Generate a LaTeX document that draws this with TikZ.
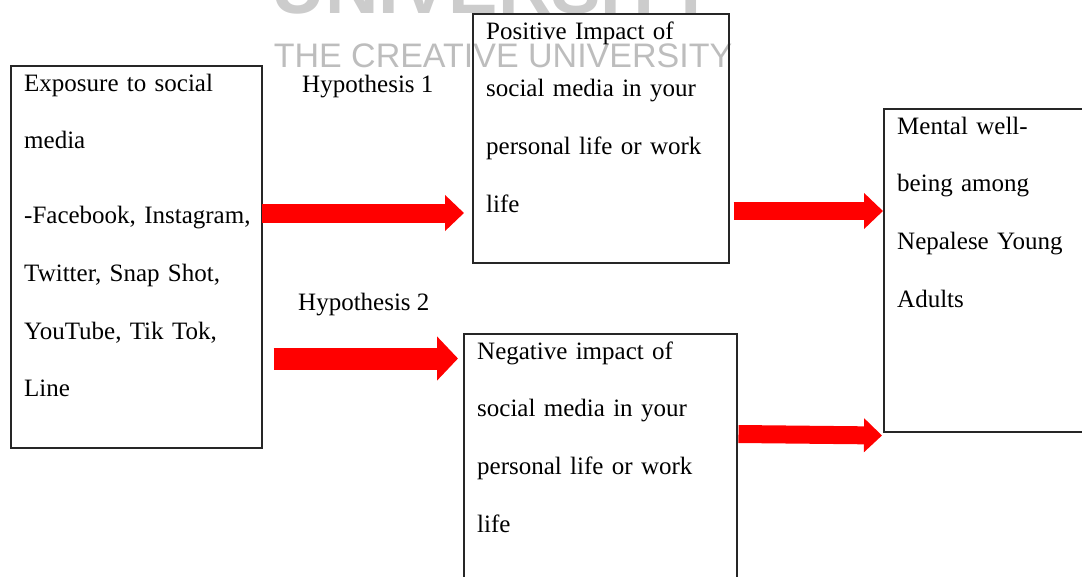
\documentclass[tikz,border=0pt]{standalone}
\usepackage{fontspec}
\setmainfont{Liberation Serif}
\newfontfamily\wmfont{Liberation Sans}
\usetikzlibrary{arrows.meta,calc}

\tikzset{
  framebox/.style={draw=black!85,line width=1.5pt,inner sep=0pt,anchor=north west},
  boxtext/.style={inner sep=0pt,anchor=north west,text width=250pt,align=left,
    font=\fontsize{25}{57.7}\selectfont,execute at begin node={\rule{0pt}{20pt}}},
  hyplabel/.style={inner sep=0pt,anchor=base west,font=\fontsize{25}{30}\selectfont},
  bigarrow/.style={red,line width=19pt,-{Triangle[length=19pt,width=35pt]}},
  watermark/.style={inner sep=0pt,anchor=base,text=black!20}
}

\begin{document}
\begin{tikzpicture}[x=1pt,y=-1pt]
  \useasboundingbox (0,0) rectangle (1082,576);
  \clip (0,0) rectangle (1082,576);
  \node[watermark,font=\wmfont\bfseries\fontsize{74}{80}\selectfont] (wm-big) at (494,13) {UNIVERSITY};
  \node[watermark,text=black!26,font=\wmfont\fontsize{34}{40}\selectfont] (wm-small) at (503,67) {THE CREATIVE UNIVERSITY};

  \node[framebox,minimum width=251pt,minimum height=382pt] (expo) at (10,65) {};
  \node[framebox,minimum width=256pt,minimum height=249pt] (pos) at (472,13) {};
  \node[framebox,minimum width=273pt,minimum height=300pt] (neg) at (463,333) {};
  \node[framebox,minimum width=240pt,minimum height=323pt] (mental) at (883,108) {};

  \node[boxtext] (expo-txt) at ($(expo.north west)+(14,6)$)
    {Exposure to social\\ media\\[17pt] -Facebook, Instagram,\\ Twitter, Snap Shot,\\ YouTube, Tik Tok,\\ Line};
  \node[boxtext] (pos-txt) at ($(pos.north west)+(14,6)$)
    {Positive Impact of\\ social media in your\\ personal life or work\\ life};
  \node[boxtext] (neg-txt) at ($(neg.north west)+(14,6)$)
    {Negative impact of\\ social media in your\\ personal life or work\\ life};
  \node[boxtext] (mental-txt) at ($(mental.north west)+(14,6)$)
    {Mental well-\\ being among\\ Nepalese Young\\ Adults};

  \node[hyplabel] (hyp1) at (302,92) {Hypothesis 1};
  \node[hyplabel] (hyp2) at (298,310) {Hypothesis 2};

  \path[bigarrow]
    ($(expo.north east)+(-1,148)$) edge ($(pos.north west)+(-8,200)$)
    ($(expo.north east)+(11,293.5)$) edge[line width=22pt,-{Triangle[length=21pt,width=43pt]}] ($(neg.north west)+(-5,25.5)$)
    ($(pos.north east)+(4,198)$) edge[line width=18pt] ($(mental.north west)+(0,103)$)
    ($(neg.north east)+(1,101)$) edge[line width=18pt,-{Triangle[length=18pt,width=33pt]}] ($(mental.south west)+(-1,3)$);
\end{tikzpicture}
\end{document}
